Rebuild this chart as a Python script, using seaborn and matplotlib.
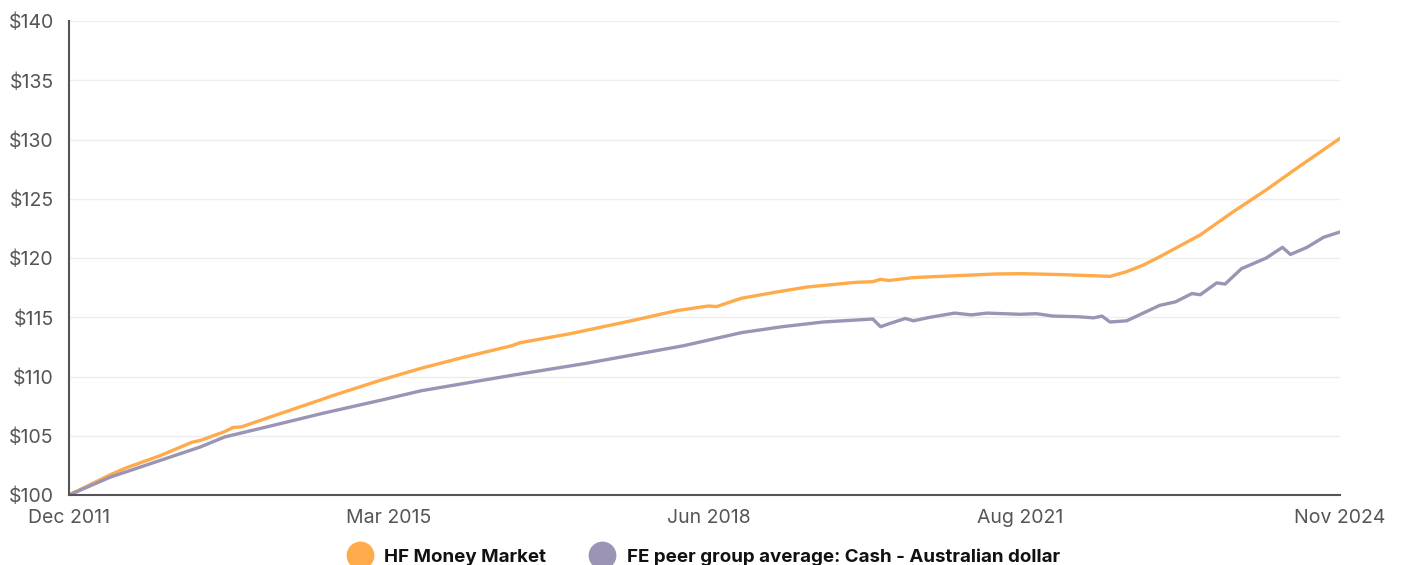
import pandas as pd
import numpy as np
import seaborn as sns
import matplotlib.pyplot as plt
import matplotlib.dates as mdates
from matplotlib.lines import Line2D
from matplotlib.ticker import FuncFormatter

# values (growth of $100)
fund_dates = ['2011-12', '2012-05', '2012-07', '2012-08', '2012-11', '2013-03', '2013-04',
              '2013-07', '2013-08', '2013-09', '2014-01', '2014-07', '2014-08', '2015-02',
              '2015-07', '2015-12', '2016-06', '2016-07', '2017-01', '2017-09', '2018-02',
              '2018-05', '2018-06', '2018-07', '2018-10', '2019-02', '2019-06', '2019-12',
              '2020-02', '2020-03', '2020-04', '2020-07', '2020-12', '2021-05', '2021-08',
              '2022-01', '2022-07', '2022-09', '2022-11', '2023-01', '2023-06', '2023-10',
              '2024-02', '2024-06', '2024-11']
fund_values = [100.0, 101.7, 102.3, 102.55, 103.3, 104.45, 104.6,
               105.35, 105.7, 105.75, 106.7, 108.1, 108.35, 109.7,
               110.7, 111.6, 112.6, 112.85, 113.6, 114.77, 115.55,
               115.85, 115.95, 115.9, 116.6, 117.1, 117.55, 117.95,
               118.0, 118.2, 118.1, 118.35, 118.5, 118.65, 118.68,
               118.6, 118.45, 118.85, 119.4, 120.1, 121.95, 123.9,
               125.75, 127.7, 130.1]

peer_dates = ['2011-12', '2012-05', '2012-11', '2013-04', '2013-07', '2014-01', '2014-07',
              '2015-02', '2015-07', '2016-06', '2017-03', '2018-03', '2018-10', '2019-03',
              '2019-08', '2020-02', '2020-03', '2020-04', '2020-06', '2020-07', '2020-09',
              '2020-12', '2021-02', '2021-04', '2021-08', '2021-10', '2021-12', '2022-03',
              '2022-05', '2022-06', '2022-07', '2022-09', '2022-11', '2023-01', '2023-03',
              '2023-05', '2023-06', '2023-08', '2023-09', '2023-11', '2024-02', '2024-04',
              '2024-05', '2024-07', '2024-09', '2024-11']
peer_values = [100.0, 101.5, 102.9, 104.05, 104.9, 105.9, 106.9,
               108.0, 108.8, 110.1, 111.1, 112.6, 113.7, 114.2,
               114.6, 114.85, 114.2, 114.45, 114.9, 114.7, 115.0,
               115.35, 115.2, 115.35, 115.25, 115.3, 115.1, 115.05,
               114.95, 115.1, 114.6, 114.7, 115.35, 116.0, 116.3,
               117.0, 116.9, 117.9, 117.8, 119.1, 120.0, 120.9,
               120.3, 120.9, 121.75, 122.2]

fund_name = 'HF Money Market'
peer_name = 'FE peer group average: Cash - Australian dollar'
colors = {fund_name: '#ffab4c', peer_name: '#9b94b5'}

df = pd.concat([
    pd.DataFrame({'date': pd.to_datetime(fund_dates), 'value': fund_values, 'series': fund_name}),
    pd.DataFrame({'date': pd.to_datetime(peer_dates), 'value': peer_values, 'series': peer_name}),
])

sns.set_style('white')
plt.rcParams['font.family'] = ['Inter', 'DejaVu Sans']

fig = plt.figure(figsize=(14.01, 5.65), dpi=100)
ax = fig.add_axes([0.0493, 0.1239, 0.9072, 0.8389])

sns.lineplot(data=df, x='date', y='value', hue='series', palette=colors,
             linewidth=2.4, legend=False, ax=ax)

ax.set_xlim(pd.Timestamp('2011-12-01'), pd.Timestamp('2024-11-01'))
ax.set_ylim(100, 140)
ax.set_yticks(np.arange(100, 141, 5))
ax.yaxis.set_major_formatter(FuncFormatter(lambda v, p: f'${v:.0f}'))
ticks = pd.to_datetime(['2011-12-01', '2015-03-01', '2018-06-01', '2021-08-01', '2024-11-01'])
ax.set_xticks(ticks)
ax.xaxis.set_major_formatter(mdates.DateFormatter('%b %Y'))
ax.set_xlabel('')
ax.set_ylabel('')

ax.grid(axis='y', color='#eeeeee', linewidth=1)
ax.set_axisbelow(True)
for s in ['top', 'right']:
    ax.spines[s].set_visible(False)
for s in ['left', 'bottom']:
    ax.spines[s].set_color('#555555')
    ax.spines[s].set_linewidth(1.5)
ax.tick_params(axis='both', length=0, labelsize=14, labelcolor='#555555')
ax.tick_params(axis='x', pad=10)
ax.tick_params(axis='y', pad=11)

handles = [Line2D([], [], marker='o', linestyle='', markersize=19,
                  markerfacecolor=colors[n], markeredgecolor=colors[n]) for n in colors]
leg = fig.legend(handles, list(colors), loc='center', bbox_to_anchor=(0.5, 0.014),
                 ncol=2, frameon=False, handletextpad=0.3, columnspacing=2.0,
                 prop={'size': 13.5, 'weight': 'bold'})
for t in leg.get_texts():
    t.set_color('#111111')

fig.savefig('out.png', dpi=100)
